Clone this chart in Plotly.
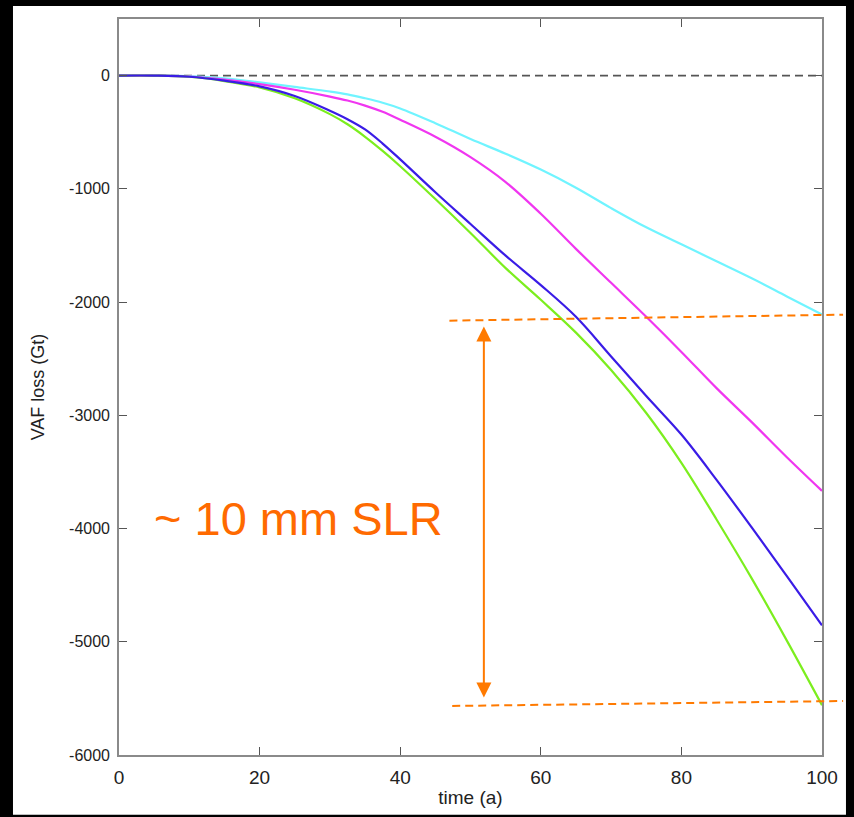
import plotly.graph_objects as go

# ---- data ----
time_a = [0, 5, 10, 15, 20, 25, 30, 32.5, 35, 37.5, 40, 45, 50, 55, 60, 65, 70, 75, 80, 85, 90, 95, 100]
vaf_cyan = [0, 0, -5, -25, -60, -100, -140, -165, -200, -240, -290, -420, -560, -690, -830, -990, -1170, -1340, -1490, -1640, -1790, -1950, -2110]
vaf_magenta = [0, 0, -8, -35, -75, -125, -185, -220, -265, -320, -390, -540, -720, -940, -1220, -1530, -1830, -2130, -2440, -2760, -3060, -3370, -3667]
vaf_blue = [0, 0, -10, -45, -95, -180, -310, -385, -475, -600, -740, -1030, -1310, -1590, -1850, -2130, -2480, -2830, -3170, -3570, -3990, -4420, -4855]
vaf_green = [0, 0, -10, -48, -105, -200, -340, -430, -540, -665, -800, -1090, -1390, -1700, -1980, -2270, -2600, -2980, -3420, -3920, -4440, -4990, -5560]

x_ticks = [0, 20, 40, 60, 80, 100]
y_ticks = [0, -1000, -2000, -3000, -4000, -5000, -6000]

# annotation reference values (time, VAF)
slr_top_line = [(47, -2164), (103, -2111)]
slr_bottom_line = [(47.4, -5567), (103, -5523)]
arrow_time = 51.9
arrow_top = -2216
arrow_bottom = -5506
slr_text = "~ 10 mm SLR"

X_RANGE = [0, 100]
Y_RANGE = [-6000, 500]

ORANGE = "#FF7A00"
FONT = "Liberation Sans, Arial, sans-serif"

fig = go.Figure()

series = [
    ("cyan", vaf_cyan, "#70F4FF"),
    ("magenta", vaf_magenta, "#F036F0"),
    ("green", vaf_green, "#7CEE1E"),
    ("blue", vaf_blue, "#3A1CE6"),
]
for name, ys, col in series:
    fig.add_trace(go.Scatter(
        x=time_a, y=ys, mode="lines", name=name,
        line=dict(color=col, width=2.2, shape="spline", smoothing=1.0),
        showlegend=False, hoverinfo="x+y",
    ))

def to_paper_x(t):
    return (t - X_RANGE[0]) / (X_RANGE[1] - X_RANGE[0])

shapes = [
    # white slide area on black background
    dict(type="rect", xref="paper", yref="paper", x0=-0.1508, x1=1.0341, y0=-0.0812, y1=1.0176,
         fillcolor="white", line=dict(width=0), layer="below"),
    # zero reference line
    dict(type="line", xref="x", yref="y", x0=0, x1=100, y0=0, y1=0,
         line=dict(color="#555555", width=1.6, dash="8px,5px"), layer="below"),
]
for (t0, v0), (t1, v1) in [(slr_top_line[0], slr_top_line[1]), (slr_bottom_line[0], slr_bottom_line[1])]:
    shapes.append(dict(type="line", xref="paper", yref="y",
                       x0=to_paper_x(t0), x1=to_paper_x(t1), y0=v0, y1=v1,
                       line=dict(color=ORANGE, width=2, dash="8px,5px"), layer="above"))

annotations = [
    dict(x=arrow_time, y=arrow_top, ax=arrow_time, ay=arrow_bottom, xref="x", yref="y",
         axref="x", ayref="y", text="", showarrow=True, arrowhead=2, startarrowhead=2,
         arrowside="end+start", arrowsize=1.5, startarrowsize=1.5, arrowwidth=2, arrowcolor=ORANGE),
    dict(x=0.255, y=0.322, xref="paper", yref="paper", text=slr_text, showarrow=False,
         font=dict(family=FONT, size=47, color="#FF6A00"), xanchor="center", yanchor="middle"),
]

axis_common = dict(
    showline=True, linecolor="#8a8a8a", linewidth=1.6, mirror="ticks",
    ticks="inside", ticklen=8, tickwidth=1.4, tickcolor="#555555",
    showgrid=False, zeroline=False,
)

fig.update_layout(
    width=854, height=817,
    margin=dict(l=119, r=32, t=19, b=55),
    paper_bgcolor="black", plot_bgcolor="white",
    shapes=shapes, annotations=annotations,
    font=dict(family=FONT, color="#222222"),
    xaxis=dict(range=X_RANGE, tickvals=x_ticks, ticktext=[str(v) for v in x_ticks],
               tickfont=dict(size=19, color="#222222"), ticklabelstandoff=4,
               title=dict(text="time (a)", font=dict(size=19, color="#222222"), standoff=4),
               **axis_common),
    yaxis=dict(range=Y_RANGE, tickvals=y_ticks, ticktext=[str(v) for v in y_ticks],
               tickfont=dict(size=16, color="#222222"), ticklabelstandoff=4,
               title=dict(text="VAF loss (Gt)", font=dict(size=18, color="#222222"), standoff=20),
               **axis_common),
)

fig.write_html(
    "out.html",
    config={"displayModeBar": False},
    post_script="document.body.style.margin='0';document.body.style.background='black';",
)
